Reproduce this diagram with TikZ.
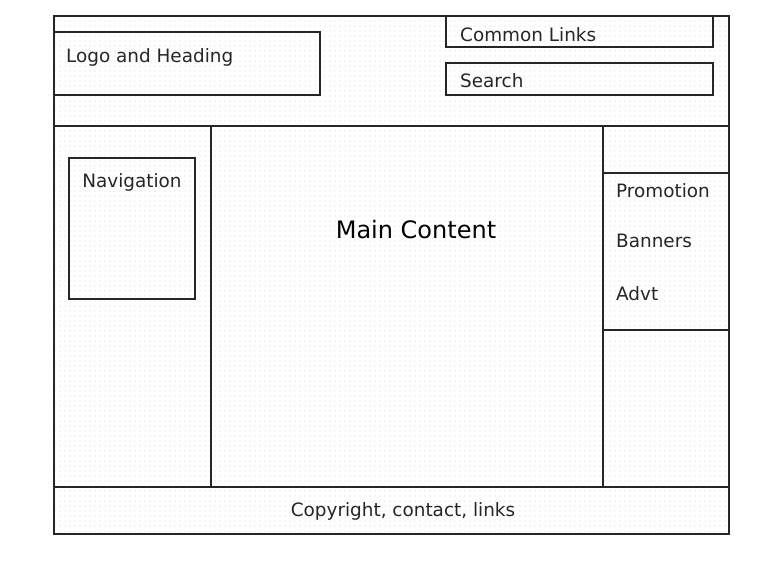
\documentclass[tikz,border=0pt]{standalone}
\usepackage{fontspec}
\setmainfont{DejaVu Sans}
\usetikzlibrary{patterns.meta}
\begin{document}
\begin{tikzpicture}[x=1pt,y=-1pt,
  frame/.style={draw=black!85,line width=1.1pt},
  lbl/.style={inner sep=0pt,font=\fontsize{18.4}{22}\selectfont,text=black!85},
  big/.style={inner sep=0pt,font=\fontsize{24}{28}\selectfont,text=black}]
\useasboundingbox (0,0) rectangle (775,571);
% dotted background
\fill[pattern={Dots[distance=5pt,radius=0.6pt]},pattern color=gray!35] (54,16) rectangle (729,534);
% outer frame and regions
\draw[frame] (54,16) rectangle (729,534);
\draw[frame] (54,126) -- (729,126);
\draw[frame] (54,487) -- (729,487);
\draw[frame] (211,126) -- (211,487);
\draw[frame] (603,126) -- (603,487);
\draw[frame] (603,173) -- (729,173);
\draw[frame] (603,330) -- (729,330);
% inner boxes
\draw[frame] (54,32) rectangle (320,95);
\draw[frame] (446,16) rectangle (713,47);
\draw[frame] (446,63) rectangle (713,95);
\draw[frame] (69,158) rectangle (195,299);
% labels
\node[lbl,anchor=base west] (logo) at (66,62) {Logo and Heading};
\node[lbl,anchor=base west] (links) at (460,41) {Common Links};
\node[lbl,anchor=base west] (search) at (460,87) {Search};
\node[lbl,anchor=base] (nav) at (132,187) {Navigation};
\node[big,anchor=base] (main) at (416,238) {Main Content};
\node[lbl,anchor=base west] (promo) at (616,197) {Promotion};
\node[lbl,anchor=base west] (ban) at (616,247) {Banners};
\node[lbl,anchor=base west] (advt) at (616,300) {Advt};
\node[lbl,anchor=base] (copy) at (403,516) {Copyright, contact, links};
\end{tikzpicture}
\end{document}
